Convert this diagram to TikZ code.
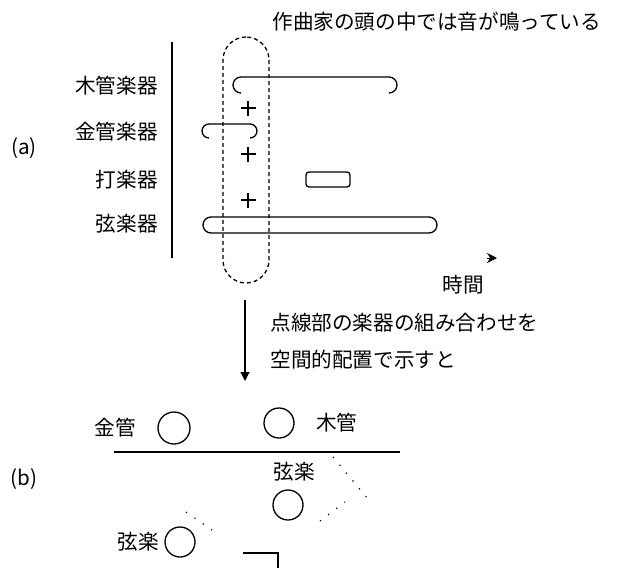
\documentclass[tikz,border=0pt]{standalone}
\usepackage{fontspec}
\setmainfont{Noto Sans CJK JP}
\usetikzlibrary{arrows.meta,positioning}

\begin{document}
\begin{tikzpicture}[
    x=0.5pt, y=-0.5pt,
    lbl/.style={font=\fontsize{10.3}{12}\selectfont, inner sep=0pt},
    bar/.style={line width=0.65pt},
    inst/.style={draw, circle, line width=0.65pt, minimum size=15pt, inner sep=0pt},
    arr/.style={-{Triangle[length=4.5pt, width=4.5pt]}, line width=0.6pt},
    sound/.style={line width=0.6pt, dash pattern=on 0.6pt off 4.5pt}
]
    \useasboundingbox (0,0) rectangle (627,568);
    % (a) instruments along time
    \node[lbl, anchor=west] (head) at (272,22) {作曲家の頭の中では音が鳴っている};
    \node[lbl] (la) at (24,148) {(a)};
    \node[lbl, anchor=east] (wood) at (158,86) {木管楽器};
    \node[lbl, anchor=east] (brass) at (158,132) {金管楽器};
    \node[lbl, anchor=east] (perc) at (158,180) {打楽器};
    \node[lbl, anchor=east] (str) at (158,224) {弦楽器};
    \coordinate (ytop) at (172,42);
    \coordinate (orig) at (172,258);
    \draw[line width=0.7pt] (ytop) -- (orig);
    % time axis: only its tip shows
    \coordinate (tbeg) at (487,258);
    \coordinate (tend) at (497,258);
    \draw[-{Stealth[length=5pt, width=5pt]}, line width=0.4pt] (tbeg) -- (tend);
    \node[lbl] (time) at (463,285) {時間};

    % sounding parts
    \draw[bar] (241,93) arc[start angle=90, end angle=270, radius=8] -- (389,77)
        arc[start angle=-90, end angle=90, radius=8];
    \draw[bar] (209,138) arc[start angle=90, end angle=270, radius=7] -- (250,124)
        arc[start angle=-90, end angle=90, radius=7];
    \draw[bar, rounded corners=1.5pt] (306,172) rectangle (350,187);
    \draw[bar, rounded corners=4pt] (203,217) rectangle (437,233);
    \foreach \y/\n in {108/1, 154/2, 200/3} {
        \coordinate (plus\n) at (248,\y);
        \draw[line width=0.7pt] ([xshift=-3.75pt]plus\n) -- ([xshift=3.75pt]plus\n)
            ([yshift=-3.75pt]plus\n) -- ([yshift=3.75pt]plus\n);
    }

    % chord cut
    \node[draw, line width=0.65pt, dash pattern=on 2pt off 1.5pt, rounded corners=11.5pt,
        minimum width=23pt, minimum height=123pt, inner sep=0pt] (focus) at (246,160) {};

    % from (a) to (b)
    \coordinate (down1) at (245,300);
    \coordinate (down2) at (245,381);
    \draw[arr] (down1) -- (down2);
    \node[lbl, anchor=west] (note1) at (270,323) {点線部の楽器の組み合わせを};
    \node[lbl, anchor=west] (note2) at (270,360) {空間的配置で示すと};

    % (b) spatial layout
    \node[lbl] (lb) at (24,479) {(b)};
    \coordinate (stageL) at (114,452);
    \coordinate (stageR) at (400,452);
    \draw[bar] (stageL) -- (stageR);
    \node[inst, minimum size=16pt] (c1) at (174,428) {};
    \node[inst] (c2) at (279,423) {};
    \node[inst] (c3) at (288,505) {};
    \node[inst] (c4) at (180,542) {};
    \node[lbl, left=10.5pt of c1] (kin) {金管};
    \node[lbl, right=10.5pt of c2] (moku) {木管};
    \node[lbl] (gen1) at (294,472) {弦楽};
    \node[lbl, left=2.5pt of c4] (gen2) {弦楽};
    \draw[bar] (243,553) -- (278,553) -- (278,575);

    % faint sound lines
    \draw[sound] (333,457) -- (368,499);
    \draw[sound] (320,521) -- (345,502);
    \draw[sound] (186,512) -- (212,530);
\end{tikzpicture}
\end{document}
